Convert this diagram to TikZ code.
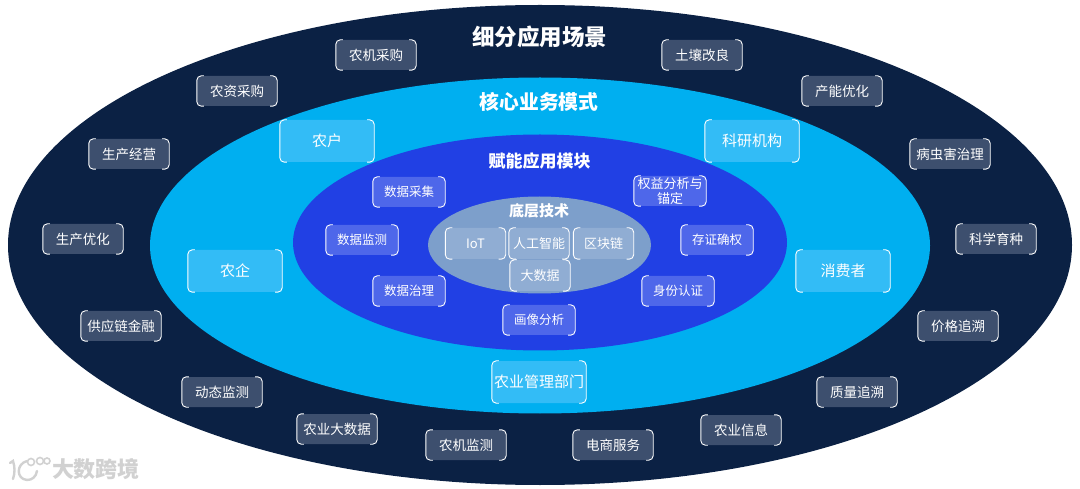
\documentclass[tikz,border=0pt]{standalone}
\usepackage{fontspec}
\setmainfont{Noto Sans CJK SC}
\usetikzlibrary{calc}
\definecolor{navy}{HTML}{0B2144}
\definecolor{sky}{HTML}{00AFF0}
\definecolor{royal}{HTML}{2140E4}
\definecolor{greyblue}{HTML}{7D9FCB}
\definecolor{outerfill}{HTML}{3D4F6E}
\definecolor{midfill}{HTML}{33BCF6}
\definecolor{innerfill}{HTML}{4E67EA}
\definecolor{corefill}{HTML}{90ADD3}
\tikzset{
  x=1pt,y=-1pt,
  basebox/.style={rounded corners=4pt,inner sep=0pt,text=white,align=center},
  outerbox/.style={basebox,fill=outerfill,minimum width=80pt,minimum height=30pt,font=\fontsize{13.5}{15}\selectfont},
  midbox/.style={basebox,fill=midfill,minimum width=94pt,minimum height=42pt,font=\fontsize{15}{17}\selectfont},
  innerbox/.style={basebox,fill=innerfill,minimum width=72pt,minimum height=30pt,font=\fontsize{12.5}{15}\selectfont},
  corebox/.style={basebox,fill=corefill,minimum width=60pt,minimum height=31pt,font=\fontsize{13}{15}\selectfont},
  brk/.style={draw=white,line width=0.9pt,rounded corners=4.5pt},
  title/.style={text=white,font=\bfseries},
}
\newcommand{\bx}[6][]{%
  \node[#2,#1] (#3) at (#4) {#5};
  \draw[brk] ($(#3.north west)+(7,0)$) -- (#3.north west) -- (#3.south west) -- ($(#3.south west)+(7,0)$);
  \draw[brk] ($(#3.north east)+(-7,0)$) -- (#3.north east) -- (#3.south east) -- ($(#3.south east)+(-7,0)$);
}
\begin{document}
\begin{tikzpicture}
\useasboundingbox (0,0) rectangle (1080,489);
\fill[white] (0,0) rectangle (1080,489);
\fill[navy] (540,245) ellipse [x radius=532,y radius=240];
\fill[sky] (540,245.5) ellipse [x radius=390,y radius=168];
\fill[royal] (540,242.5) ellipse [x radius=247,y radius=108];
\fill[greyblue] (539.5,245) ellipse [x radius=111.5,y radius=48.5];

\node[title,font=\bfseries\fontsize{22.5}{25}\selectfont] (t1) at (539.5,37) {细分应用场景};
\node[title,font=\bfseries\fontsize{19.8}{22}\selectfont] (t2) at (539,102) {核心业务模式};
\node[title,font=\bfseries\fontsize{17}{19}\selectfont] (t3) at (539.5,161) {赋能应用模块};
\node[title,font=\bfseries\fontsize{15}{17}\selectfont] (t4) at (539,211) {底层技术};

\bx{outerbox}{a1}{376,55}{农机采购}{}
\bx{outerbox}{a2}{702,55}{土壤改良}{}
\bx{outerbox}{a3}{237,91}{农资采购}{}
\bx{outerbox}{a4}{842,91}{产能优化}{}
\bx{outerbox}{a5}{129,154}{生产经营}{}
\bx{outerbox}{a6}{950,154}{病虫害治理}{}
\bx{outerbox}{a7}{83,239}{生产优化}{}
\bx{outerbox}{a8}{996,239}{科学育种}{}
\bx{outerbox}{a9}{121,326}{供应链金融}{}
\bx{outerbox}{a10}{958,326}{价格追溯}{}
\bx{outerbox}{a11}{222,392}{动态监测}{}
\bx{outerbox}{a12}{857,392}{质量追溯}{}
\bx{outerbox}{a13}{337,429}{农业大数据}{}
\bx{outerbox}{a14}{466,445}{农机监测}{}
\bx{outerbox}{a15}{613,445}{电商服务}{}
\bx{outerbox}{a16}{741,430}{农业信息}{}

\bx{midbox}{b1}{327,141}{农户}{}
\bx{midbox}{b2}{752,141}{科研机构}{}
\bx{midbox}{b3}{235,271}{农企}{}
\bx{midbox}{b4}{843,271}{消费者}{}
\bx{midbox}{b5}{539,382}{农业管理部门}{}

\bx{innerbox}{c1}{409,192}{数据采集}{}
\bx[font=\fontsize{13}{15}\selectfont]{innerbox}{c2}{670,191}{权益分析与\\锚定}{}
\bx{innerbox}{c3}{362,240}{数据监测}{}
\bx{innerbox}{c4}{717,240}{存证确权}{}
\bx{innerbox}{c5}{409,291}{数据治理}{}
\bx{innerbox}{c6}{678,291}{身份认证}{}
\bx{innerbox}{c7}{539,320}{画像分析}{}

\bx{corebox}{d1}{475.5,243.5}{IoT}{}
\bx{corebox}{d2}{539,243.5}{人工智能}{}
\bx{corebox}{d3}{603.5,243.5}{区块链}{}
\bx{corebox}{d4}{540,275.5}{大数据}{}

% watermark
\begin{scope}[draw=black!18,line width=2.4pt,fill=none,line cap=round]
  \draw (10,463) -- (13,461) .. controls (15,467) and (15,473) .. (13,479);
  \draw (27,461) .. controls (16,464) and (16,479) .. (27,480) .. controls (32,480) and (36,477) .. (37,471);
  \draw[line width=1.6pt] (31,462) circle [radius=3.5];
  \draw[line width=1.6pt] (40,461) circle [radius=3.5];
  \draw[line width=1.6pt] (47,461) circle [radius=3];
\end{scope}
\node[text=black!18,font=\bfseries\fontsize{22}{24}\selectfont] (wm) at (96,469) {大数跨境};
\end{tikzpicture}
\end{document}
